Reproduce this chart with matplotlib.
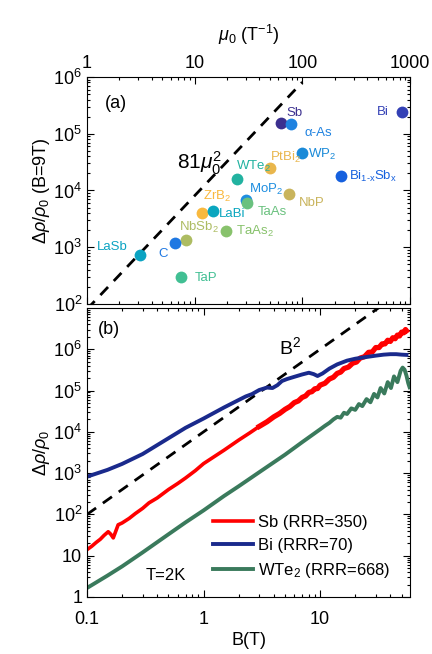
import numpy as np
import matplotlib.pyplot as plt
from matplotlib.ticker import LogLocator, NullFormatter

plt.rcParams['font.family'] = ['Liberation Sans', 'DejaVu Sans']
plt.rcParams['mathtext.fontset'] = 'custom'
plt.rcParams['mathtext.rm'] = 'Liberation Sans'
plt.rcParams['mathtext.it'] = 'Liberation Sans:italic'
plt.rcParams['mathtext.bf'] = 'Liberation Sans:bold'

# (a) mobility vs MR at 9 T
names = ['Sb', 'α-As', 'Bi', 'WP$_2$', 'PtBi$_2$', 'WTe$_2$',
         r'Bi$_{\rm 1\text{-}x}$Sb$_{\rm x}$', 'MoP$_2$', 'TaAs', 'NbP',
         'ZrB$_2$', 'LaBi', 'TaAs$_2$', 'NbSb$_2$', 'LaSb', 'C', 'TaP']
mu0 = [63, 78, 836, 100, 50, 24.5, 228, 30, 30.5, 75.5,
       11.6, 14.9, 19.5, 8.25, 3.1, 6.6, 7.46]
mr9 = [1.57e5, 1.47e5, 2.45e5, 4.5e4, 2.5e4, 1.57e4, 1.8e4, 6.8e3, 5.95e3, 8.6e3,
       4.0e3, 4.4e3, 1.96e3, 1.34e3, 7.3e2, 1.17e3, 3.0e2]
colors = ['#3b2f8f', '#1f82e0', '#3340b5', '#1a8ad8', '#e9b64c', '#22b2a0',
          '#1560de', '#1e8ee0', '#6ac17e', '#c9b45c',
          '#f9b93e', '#0aa6bf', '#88c26c', '#adbc62', '#0ba3c2', '#1f78e2', '#41bf93']
# label offsets in pixels (dx, dy) and alignment
offsets = [(6, 7, 'left'), (14, -12, 'left'), (-13, -3, 'right'), (6, -4, 'left'),
           (0, 7, 'left'), (-1, 9, 'left'), (8, -4, 'left'), (3, 7, 'left'),
           (11, -12, 'left'), (10, -12, 'left'), (1, 13, 'left'), (6, -6, 'left'),
           (10, -4, 'left'), (-7, 9, 'left'), (-12, 5, 'right'), (-7, -14, 'right'),
           (14, -4, 'left')]

mu_line = [1, 100]

# (b) MR vs field
B_sb = [0.1, 0.11, 0.12, 0.13, 0.14, 0.152, 0.16, 0.168, 0.177, 0.185, 0.2, 0.23,
        0.26, 0.3, 0.34, 0.4, 0.5, 0.6, 0.7, 0.85, 1, 1.5, 2, 2.5, 3.0]
sb = [14, 17, 21, 25, 31, 38, 33, 27, 40, 56, 62, 80,
      105, 140, 190, 250, 400, 560, 760, 1.15e3, 1.7e3, 3.6e3, 6.3e3, 9.5e3, 1.35e4]
B_sb_hi = [3.0, 3.5, 4.0, 4.5, 5.0, 5.5, 6.0, 6.5, 7.0, 7.5, 8.0, 8.5, 9.0, 9.5, 10,
           11, 12, 13, 14, 15, 16, 17.5, 19, 20.5, 22, 24, 26, 28, 30, 32, 34, 36,
           38, 40, 42, 44, 46, 48, 50, 52, 54, 55]
sb_hi = [1.35e4, 1.75e4, 2.3e4, 2.8e4, 3.5e4, 4.1e4, 5.1e4, 5.6e4, 6.8e4, 7.4e4,
         9.0e4, 9.4e4, 1.1e5, 1.12e5, 1.35e5, 1.5e5, 1.9e5, 2.1e5, 2.6e5, 2.8e5,
         3.4e5, 3.7e5, 4.6e5, 4.9e5, 6.1e5, 6.6e5, 8.4e5, 8.6e5, 1.1e6, 1.1e6,
         1.35e6, 1.35e6, 1.65e6, 1.55e6, 1.9e6, 1.8e6, 2.2e6, 2.1e6, 2.6e6, 2.5e6,
         3.0e6, 2.8e6]

B_bi = [0.1, 0.15, 0.2, 0.3, 0.5, 0.7, 1, 1.5, 2, 2.3, 2.6, 3, 3.5, 3.9, 4.3, 4.7,
        5.2, 6, 7, 8, 8.8, 9.5, 10.5, 12, 14, 17, 20, 25, 30, 35, 40, 45, 50, 55]
bi = [8.2e2, 1.2e3, 1.67e3, 2.9e3, 7e3, 1.25e4, 2.1e4, 3.9e4, 5.9e4, 7.2e4, 8.2e4,
      1.03e5, 1.18e5, 1.15e5, 1.35e5, 1.7e5, 1.9e5, 2.15e5, 2.45e5, 2.7e5, 2.5e5,
      2.25e5, 2.6e5, 3.4e5, 4.3e5, 5.3e5, 5.9e5, 6.5e5, 7e5, 7.4e5, 7.6e5, 7.6e5,
      7.4e5, 7.3e5]

B_wte2 = [0.1, 0.15, 0.2, 0.3, 0.5, 0.7, 1, 1.5, 2, 3, 5, 7, 10, 11, 12, 13, 14,
          15, 16, 17, 18.5, 20, 21.5, 23, 25, 27, 29, 31, 33, 35.5, 38, 40.5, 43,
          46, 49, 51, 53, 55, 57, 58.5]
wte2 = [1.65, 3.3, 5.5, 12, 33, 64, 125, 280, 480, 1.05e3, 2.8e3, 5.6e3, 1.15e4,
        1.4e4, 1.65e4, 2.0e4, 2.3e4, 2.2e4, 2.9e4, 2.7e4, 3.7e4, 3.4e4, 4.7e4,
        4.2e4, 6.2e4, 5.2e4, 8.3e4, 6.8e4, 1.15e5, 8.5e4, 1.6e5, 1.15e5, 2.2e5,
        1.6e5, 3.0e5, 3.6e5, 3.2e5, 2.3e5, 1.5e5, 1.2e5]

B_line = [0.1, 60]
b2_line = [1e2, 3.6e7]

fig = plt.figure(figsize=(4.32, 6.54), dpi=100)
ax1 = fig.add_axes([0.2014, 0.5352, 0.7477, 0.3471])
ax2 = fig.add_axes([0.2014, 0.0872, 0.7477, 0.4419])

# ---- panel (a) ----
ax1.plot(mu_line, [81 * m ** 2 for m in mu_line], 'k--', lw=2, dashes=(4, 3))
for i in range(len(names)):
    ax1.plot(mu0[i], mr9[i], 'o', ms=8.5, color=colors[i], mec='none', zorder=3)
    dx, dy, ha = offsets[i]
    ax1.annotate(names[i], (mu0[i], mr9[i]), xytext=(dx, dy),
                 textcoords='offset pixels', ha=ha, va='baseline',
                 fontsize=9.5, color=colors[i])
ax1.set_xscale('log')
ax1.set_yscale('log')
ax1.set_xlim(1, 1000)
ax1.set_ylim(1e2, 1e6)
ax1.xaxis.set_label_position('top')
ax1.set_xlabel(r'$\mu_0$ (T$^{-1}$)', fontsize=13, labelpad=10)
ax1.set_ylabel(r'$\Delta\rho/\rho_0$ (B=9T)', fontsize=13, labelpad=1)
ax1.set_xticks([1, 10, 100, 1000])
ax1.set_xticklabels(['1', '10', '100', '1000'])
ax1.set_yticks([1e2, 1e3, 1e4, 1e5, 1e6])
ax1.set_yticklabels(['$10^2$', '$10^3$', '$10^4$', '$10^5$', '$10^6$'])
ax1.text(0.056, 0.885, '(a)', transform=ax1.transAxes, fontsize=13, va='center')
ax1.text(0.279, 0.595, r'$81\mu_0^2$', transform=ax1.transAxes, fontsize=15,
         va='baseline')

# ---- panel (b) ----
ax2.plot(B_line, b2_line, 'k--', lw=2, dashes=(4, 3))
ax2.plot(B_sb, sb, color='#ff0000', lw=2.6, label='Sb (RRR=350)')
ax2.plot(B_sb_hi, sb_hi, color='#ff0000', lw=3.8)
ax2.plot(B_bi, bi, color='#1a2a8c', lw=2.8, label='Bi (RRR=70)')
ax2.plot(B_wte2, wte2, color='#3a7a5c', lw=2.8, label='WTe$_2$ (RRR=668)')
ax2.set_xscale('log')
ax2.set_yscale('log')
ax2.set_xlim(0.1, 59)
ax2.set_ylim(1, 1e7)
ax2.set_xticks([0.1, 1, 10])
ax2.set_xticklabels(['0.1', '1', '10'])
ax2.set_yticks([1, 10, 1e2, 1e3, 1e4, 1e5, 1e6])
ax2.set_yticklabels(['1', '10', '$10^2$', '$10^3$', '$10^4$', '$10^5$', '$10^6$'])
ax2.set_xlabel('B(T)', fontsize=13, labelpad=3)
ax2.set_ylabel(r'$\Delta\rho/\rho_0$', fontsize=13, labelpad=1)
ax2.text(0.034, 0.924, '(b)', transform=ax2.transAxes, fontsize=13, va='center')
ax2.text(0.594, 0.865, 'B$^2$', transform=ax2.transAxes, fontsize=14, va='center')
ax2.text(0.18, 0.073, 'T=2K', transform=ax2.transAxes, fontsize=12, va='center')
ax2.legend(loc='upper left', bbox_to_anchor=(0.39, 0.285), frameon=False,
           fontsize=12, handlelength=2.4, handletextpad=0.3, labelspacing=0.5,
           borderpad=0, borderaxespad=0)

for ax in (ax1, ax2):
    ax.xaxis.set_minor_locator(LogLocator(base=10, subs=np.arange(2, 10), numticks=100))
    ax.yaxis.set_minor_locator(LogLocator(base=10, subs=np.arange(2, 10), numticks=100))
    ax.xaxis.set_minor_formatter(NullFormatter())
    ax.yaxis.set_minor_formatter(NullFormatter())
    ax.tick_params(which='both', direction='in', top=True, right=True,
                   labelsize=13, width=0.8)
    ax.tick_params(which='major', length=5)
    ax.tick_params(which='minor', length=2.5)
    for s in ax.spines.values():
        s.set_linewidth(0.8)
ax1.tick_params(labeltop=True, labelbottom=False)
ax2.tick_params(axis='x', which='major', pad=10)

plt.savefig('out.png', dpi=100)
